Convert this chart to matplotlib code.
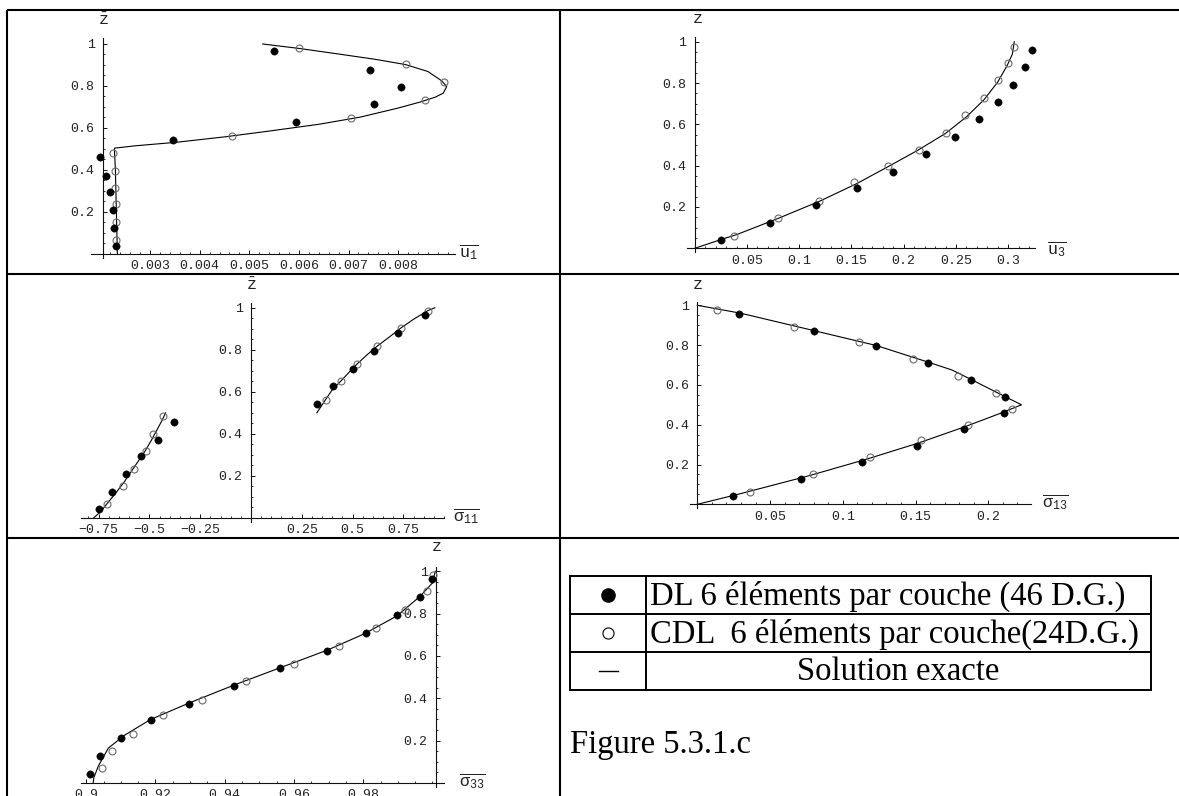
import numpy as np
import matplotlib
matplotlib.use("Agg")
import matplotlib.pyplot as plt
from matplotlib.ticker import FixedLocator, FixedFormatter

plt.rcParams['mathtext.fontset'] = 'custom'
plt.rcParams['mathtext.rm'] = 'Liberation Mono'
plt.rcParams['mathtext.it'] = 'Liberation Mono'

W, H = 1179, 796

# ---------------- data: panel 1 (u1) ----------------
p1_dl_u = [0.00550, 0.00743, 0.00806, 0.00751, 0.00594, 0.00347, 0.00198, 0.00211, 0.00219, 0.00225, 0.00228, 0.00232]
p1_dl_z = [0.965, 0.878, 0.795, 0.712, 0.629, 0.545, 0.460, 0.373, 0.297, 0.210, 0.125, 0.040]
p1_cdl_u = [0.00600, 0.00815, 0.00893, 0.00855, 0.00706, 0.00465, 0.00226, 0.00229, 0.00230, 0.00232, 0.00232, 0.00232]
p1_cdl_z = [0.979, 0.905, 0.818, 0.735, 0.649, 0.562, 0.482, 0.397, 0.316, 0.237, 0.150, 0.068]
p1_ex_u = [0.00527, 0.00600, 0.00678, 0.00754, 0.00815, 0.00860, 0.00887, 0.00898, 0.00891, 0.00875,
           0.00845, 0.00800, 0.00724, 0.00641, 0.00542, 0.00451, 0.00353, 0.00269, 0.00228,
           0.00228, 0.00230, 0.00231, 0.00232, 0.00233, 0.00234]
p1_ex_z = [1.0, 0.979, 0.953, 0.927, 0.902, 0.869, 0.826, 0.798, 0.766, 0.747,
           0.724, 0.695, 0.652, 0.618, 0.586, 0.558, 0.532, 0.515, 0.504,
           0.50, 0.40, 0.30, 0.20, 0.10, 0.0]
p1_xticks = [0.003, 0.004, 0.005, 0.006, 0.007, 0.008]
p1_xlabels = ['0.003', '0.004', '0.005', '0.006', '0.007', '0.008']

# ---------------- data: panel 2 (u3) ----------------
p2_dl_u = [0.0249, 0.0725, 0.1162, 0.1555, 0.190, 0.221, 0.249, 0.272, 0.290, 0.305, 0.316, 0.323]
p2_dl_z = [0.040, 0.124, 0.211, 0.294, 0.371, 0.455, 0.540, 0.624, 0.710, 0.792, 0.879, 0.961]
p2_cdl_u = [0.0375, 0.0794, 0.1187, 0.1522, 0.1847, 0.2143, 0.240, 0.259, 0.2767, 0.290, 0.300, 0.3056]
p2_cdl_z = [0.061, 0.147, 0.229, 0.319, 0.398, 0.476, 0.556, 0.644, 0.727, 0.815, 0.898, 0.976]
p2_ex_u = [0.0, 0.012, 0.025, 0.040, 0.080, 0.120, 0.155, 0.185, 0.214, 0.240, 0.260, 0.277, 0.290, 0.299, 0.304, 0.3058]
p2_ex_z = [0.0, 0.020, 0.042, 0.066, 0.145, 0.229, 0.313, 0.395, 0.476, 0.556, 0.636, 0.720, 0.805, 0.885, 0.940, 1.0]
p2_xticks = [0.05, 0.1, 0.15, 0.2, 0.25, 0.3]
p2_xlabels = ['0.05', '0.1', '0.15', '0.2', '0.25', '0.3']

# ---------------- data: panel 3 (sigma11) ----------------
p3_dl_s = [-0.748, -0.683, -0.615, -0.541, -0.459, -0.380, 0.324, 0.406, 0.500, 0.604, 0.722, 0.854]
p3_dl_z = [0.044, 0.124, 0.211, 0.296, 0.372, 0.456, 0.544, 0.628, 0.710, 0.794, 0.880, 0.967]
p3_cdl_s = [-0.711, -0.630, -0.574, -0.519, -0.483, -0.435, 0.367, 0.441, 0.524, 0.622, 0.737, 0.870]
p3_cdl_z = [0.065, 0.152, 0.235, 0.317, 0.398, 0.483, 0.563, 0.650, 0.734, 0.818, 0.903, 0.986]
p3_exlow_s = [-0.775, -0.740, -0.711, -0.665, -0.625, -0.590, -0.555, -0.520, -0.490, -0.465, -0.440, -0.420]
p3_exlow_z = [0.0, 0.030, 0.065, 0.120, 0.170, 0.220, 0.270, 0.320, 0.370, 0.415, 0.460, 0.500]
p3_exup_s = [0.324, 0.367, 0.400, 0.441, 0.480, 0.524, 0.570, 0.622, 0.680, 0.737, 0.800, 0.870, 0.905]
p3_exup_z = [0.500, 0.563, 0.610, 0.650, 0.690, 0.734, 0.775, 0.818, 0.860, 0.903, 0.945, 0.986, 1.0]
p3_xticks = [-0.75, -0.5, -0.25, 0.25, 0.5, 0.75]
p3_xlabels = ['\u22120.75', '\u22120.5', '\u22120.25', '0.25', '0.5', '0.75']

# ---------------- data: panel 4 (sigma13) ----------------
p4_dl_s = [0.0285, 0.0803, 0.1231, 0.1588, 0.1883, 0.2117, 0.2106, 0.1832, 0.151, 0.113, 0.0715, 0.0246]
p4_dl_z = [0.955, 0.871, 0.796, 0.710, 0.625, 0.539, 0.461, 0.379, 0.293, 0.213, 0.129, 0.042]
p4_cdl_s = [0.0137, 0.0663, 0.1109, 0.1482, 0.1793, 0.2054, 0.2163, 0.186, 0.1539, 0.1189, 0.0798, 0.0363]
p4_cdl_z = [0.975, 0.891, 0.816, 0.732, 0.645, 0.561, 0.481, 0.400, 0.322, 0.236, 0.151, 0.062]
p4_ex_s = [0.0, 0.030, 0.080, 0.123, 0.158, 0.175, 0.188, 0.205, 0.2228, 0.210, 0.184, 0.152, 0.116, 0.076, 0.030, 0.0]
p4_ex_z = [1.0, 0.960, 0.873, 0.798, 0.716, 0.675, 0.628, 0.565, 0.500, 0.462, 0.390, 0.308, 0.226, 0.142, 0.054, 0.0]
p4_xticks = [0.05, 0.1, 0.15, 0.2]
p4_xlabels = ['0.05', '0.1', '0.15', '0.2']

# ---------------- data: panel 5 (sigma33) ----------------
p5_dl_s = [0.9010, 0.9040, 0.9101, 0.9188, 0.9297, 0.9426, 0.9561, 0.9695, 0.9809, 0.9898, 0.9964, 0.9999]
p5_dl_z = [0.044, 0.129, 0.214, 0.299, 0.375, 0.460, 0.545, 0.625, 0.709, 0.795, 0.879, 0.965]
p5_cdl_s = [0.9045, 0.9075, 0.9136, 0.9222, 0.9335, 0.9461, 0.9601, 0.9729, 0.9838, 0.9920, 0.9983, 1.0001]
p5_cdl_z = [0.071, 0.150, 0.233, 0.320, 0.394, 0.480, 0.564, 0.649, 0.732, 0.819, 0.906, 0.984]
p5_ex_s = [0.9020, 0.9022, 0.9035, 0.9064, 0.9110, 0.9186, 0.9296, 0.9426, 0.9561, 0.9697, 0.9805, 0.9898, 0.9963, 1.0000, 1.0008]
p5_ex_z = [0.0, 0.025, 0.080, 0.165, 0.225, 0.300, 0.377, 0.462, 0.545, 0.628, 0.706, 0.790, 0.880, 0.945, 1.0]
p5_xticks = [0.9, 0.92, 0.94, 0.96, 0.98]
p5_xlabels = ['0.9', '0.92', '0.94', '0.96', '0.98']

z_ticks = [0.2, 0.4, 0.6, 0.8, 1.0]
z_labels = ['0.2', '0.4', '0.6', '0.8', '1']

legend_labels = ['DL 6 éléments par couche (46 D.G.)',
                 'CDL  6 éléments par couche(24D.G.)',
                 'Solution exacte']
caption = 'Figure 5.3.1.c'

fig = plt.figure(figsize=(W / 100, H / 100), dpi=100)

TICKCOL = '#222222'


def make_panel(xref, pxref, yref, pyref, xlim, ylim, x0, xticks, xlabels, xminor, yminor,
               xlab, xlab_pos, zlab, zlab_pos):
    fx = lambda v: pxref[0] + (v - xref[0]) * (pxref[1] - pxref[0]) / (xref[1] - xref[0])
    fy = lambda v: pyref[0] + (v - yref[0]) * (pyref[1] - pyref[0]) / (yref[1] - yref[0])
    left, right = fx(xlim[0]), fx(xlim[1])
    bottom, top = fy(ylim[0]), fy(ylim[1])
    ax = fig.add_axes([left / W, 1 - bottom / H, (right - left) / W, (bottom - top) / H])
    ax.set_xlim(xlim)
    ax.set_ylim(ylim)
    ax.patch.set_visible(False)
    for s in ['top', 'right']:
        ax.spines[s].set_visible(False)
    ax.spines['left'].set_position(('data', x0))
    ax.spines['bottom'].set_position(('data', 0))
    for s in ['left', 'bottom']:
        ax.spines[s].set_linewidth(0.8)
        ax.spines[s].set_color('#111111')
    ax.xaxis.set_major_locator(FixedLocator(xticks))
    ax.xaxis.set_major_formatter(FixedFormatter(xlabels))
    ax.xaxis.set_minor_locator(FixedLocator(xminor))
    ax.yaxis.set_major_locator(FixedLocator(z_ticks))
    ax.yaxis.set_major_formatter(FixedFormatter(z_labels))
    ax.yaxis.set_minor_locator(FixedLocator(yminor))
    ax.tick_params(which='major', direction='in', length=3, width=0.7, color='#111111',
                   labelcolor=TICKCOL)
    ax.tick_params(which='minor', direction='in', length=1.6, width=0.6, color='#111111')
    ax.tick_params(axis='x', which='major', pad=4.5)
    ax.tick_params(axis='y', which='major', pad=6.0)
    for lab in ax.get_xticklabels() + ax.get_yticklabels():
        lab.set_fontfamily('Liberation Mono')
        lab.set_fontsize(9.5)
    fig.text(xlab_pos[0] / W, 1 - xlab_pos[1] / H, xlab, ha='center', va='center',
             fontsize=12, color='#222222')
    fig.text(zlab_pos[0] / W, 1 - zlab_pos[1] / H, zlab, ha='center', va='center',
             fontsize=12, color='#222222')
    return ax


def draw(ax, ex_list, dl_x, dl_z, cdl_x, cdl_z):
    for ex_x, ex_z in ex_list:
        ax.plot(ex_x, ex_z, color='black', lw=0.8, clip_on=False, zorder=2)
    ax.plot(cdl_x, cdl_z, 'o', ms=5.0, mfc='none', mec='#6a6a6a', mew=0.8, clip_on=False, zorder=3)
    ax.plot(dl_x, dl_z, 'o', ms=5.3, mfc='black', mec='black', mew=0.3, clip_on=False, zorder=4)


ZBAR = r'$\bar{\mathrm{z}}$'
zminor = list(np.arange(0.05, 1.01, 0.05))

# Panel 1
ax1 = make_panel((0.00205, 0.00305), (103, 152.6), (0, 1), (254, 44),
                 (0.0018, 0.00915), (-0.02, 1.027), 0.00205,
                 p1_xticks, p1_xlabels, list(np.arange(0.0022, 0.0091, 0.0002)), zminor,
                 r'$\overline{\mathrm{u}_{1}}$', (469, 252), ZBAR, (103, 20))
draw(ax1, [(p1_ex_u, p1_ex_z)], p1_dl_u, p1_dl_z, p1_cdl_u, p1_cdl_z)

# Panel 2
ax2 = make_panel((0, 0.3), (694.7, 1008.2), (0, 1), (248.3, 41.7),
                 (-0.0076, 0.3254), (-0.02, 1.024), 0.0,
                 p2_xticks, p2_xlabels, list(np.arange(0.01, 0.321, 0.01)), zminor,
                 r'$\overline{\mathrm{u}_{3}}$', (1057, 249), ZBAR, (697, 19))
draw(ax2, [(p2_ex_u, p2_ex_z)], p2_dl_u, p2_dl_z, p2_cdl_u, p2_cdl_z)

# Panel 3
ax3 = make_panel((0, 0.25), (251, 301.8), (0, 1), (518, 307.7),
                 (-0.835, 0.95), (-0.02, 1.02), 0.0,
                 p3_xticks, p3_xlabels, list(np.arange(-0.8, 0.951, 0.05)), zminor,
                 r'$\overline{\mathrm{σ}_{11}}$', (466, 516), ZBAR, (251, 285))
draw(ax3, [(p3_exlow_s, p3_exlow_z), (p3_exup_s, p3_exup_z)], p3_dl_s, p3_dl_z, p3_cdl_s, p3_cdl_z)

# Panel 4
ax4 = make_panel((0, 0.2), (697.3, 988.3), (0, 1), (504.3, 305.3),
                 (-0.0052, 0.2293), (-0.02, 1.017), 0.0,
                 p4_xticks, p4_xlabels, list(np.arange(0.01, 0.2291, 0.01)), zminor,
                 r'$\overline{\mathrm{σ}_{13}}$', (1055, 502), r'$\mathrm{z}$', (697, 284))
draw(ax4, [(p4_ex_s, p4_ex_z)], p4_dl_s, p4_dl_z, p4_cdl_s, p4_cdl_z)

# Panel 5
ax5 = make_panel((0.9, 0.98), (86.2, 363.2), (0, 1), (783, 571.3),
                 (0.8985, 1.0034), (-0.02, 1.02), 1.001,
                 p5_xticks, p5_xlabels, list(np.arange(0.9, 1.0011, 0.005)), zminor,
                 r'$\overline{\mathrm{σ}_{33}}$', (472, 781), ZBAR, (436, 547))
draw(ax5, [(p5_ex_s, p5_ex_z)], p5_dl_s, p5_dl_z, p5_cdl_s, p5_cdl_z)

# ---------------- overlay: frame table and legend ----------------
ov = fig.add_axes([0, 0, 1, 1], zorder=-1)
ov.set_xlim(0, W)
ov.set_ylim(H, 0)
ov.axis('off')
LW = 1.5
ov.plot([7, W], [10, 10], color='black', lw=LW, solid_capstyle='butt')
ov.plot([7, 7], [10, H], color='black', lw=LW, solid_capstyle='butt')
ov.plot([560, 560], [10, H], color='black', lw=LW, solid_capstyle='butt')
ov.plot([7, W], [274, 274], color='black', lw=LW, solid_capstyle='butt')
ov.plot([7, W], [538, 538], color='black', lw=LW, solid_capstyle='butt')

rows = [576, 614, 652, 690]
for yv in rows:
    ov.plot([570, 1151], [yv, yv], color='black', lw=1.4, solid_capstyle='projecting')
for xv in [570, 646, 1151]:
    ov.plot([xv, xv], [576, 690], color='black', lw=1.4, solid_capstyle='projecting')

SERIF = 'Liberation Serif'
ov.plot([608], [595], 'o', ms=9.5, color='black')
ov.plot([608], [633], 'o', ms=8, mfc='none', mec='black', mew=0.8)
ov.plot([599, 618], [671, 671], color='black', lw=1.0)
ov.text(650, 596, legend_labels[0], ha='left', va='center', fontsize=23.5, family=SERIF)
ov.text(650, 634, legend_labels[1], ha='left', va='center', fontsize=23.5, family=SERIF)
ov.text(898.5, 672, legend_labels[2], ha='center', va='center', fontsize=23.5, family=SERIF)
ov.text(570, 745, caption, ha='left', va='center', fontsize=23.5, family=SERIF)

fig.savefig('out.png', dpi=100)
